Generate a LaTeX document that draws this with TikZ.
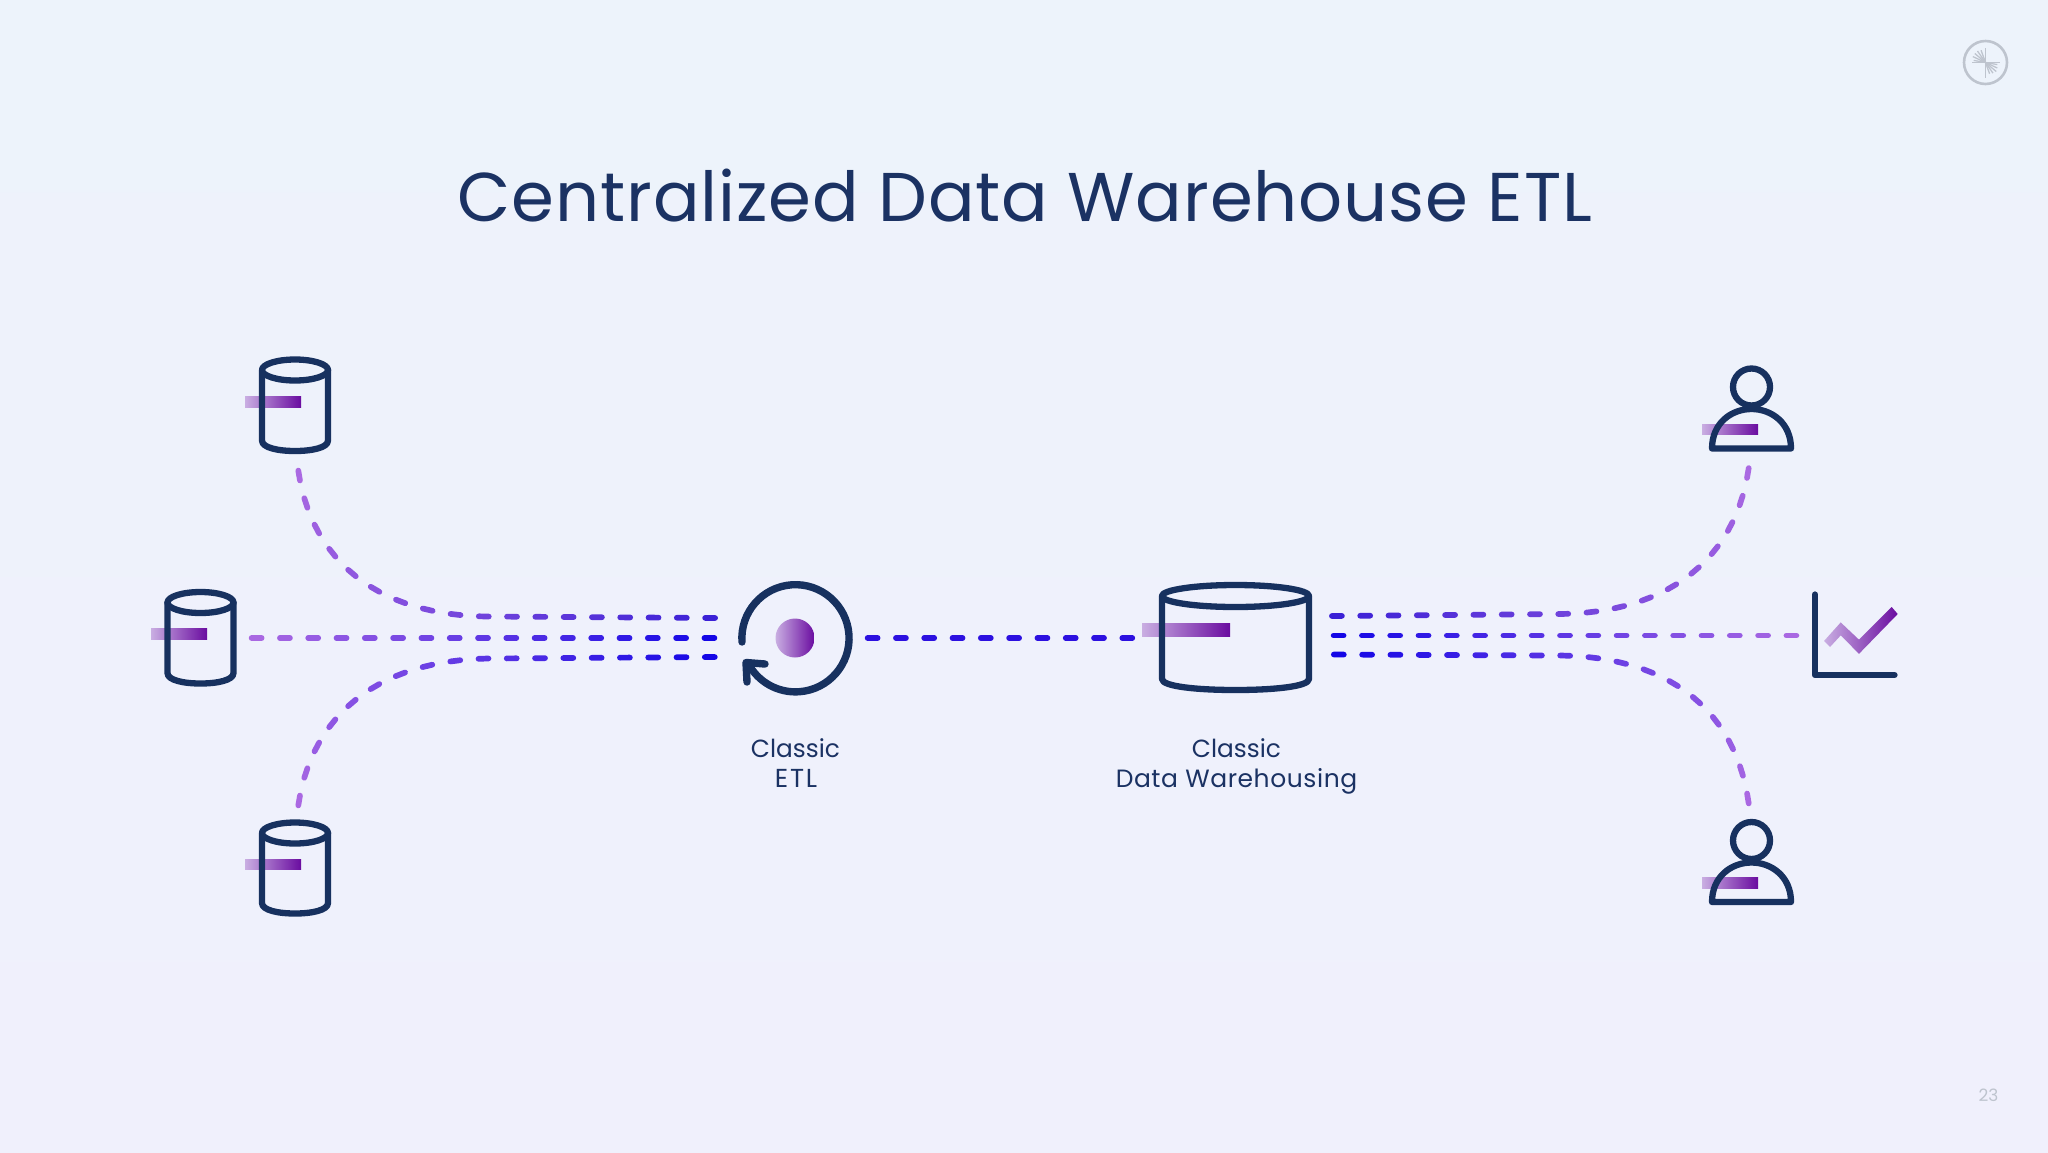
\documentclass[tikz,border=0pt]{standalone}
\usepackage{fontspec}
\setmainfont{Poppins}
\newfontfamily\spacedA[LetterSpace=7]{Poppins}
\newfontfamily\spacedB[LetterSpace=2.3]{Poppins}
\newfontfamily\spacedT[LetterSpace=1.3]{Poppins}
\usetikzlibrary{decorations.markings}
\definecolor{navy}{HTML}{17315F}
\definecolor{titlec}{HTML}{1B3263}
\definecolor{barL}{HTML}{C9AEE2}
\definecolor{barR}{HTML}{6A0CA0}
\definecolor{bgT}{HTML}{EDF3FB}
\definecolor{bgB}{HTML}{F0F0FC}
\definecolor{lineS}{HTML}{AC6AE2}
\definecolor{lineE}{HTML}{1205E6}
\definecolor{lineT}{HTML}{3A20D6}
\definecolor{midblue}{HTML}{2C10E0}
\definecolor{logoc}{HTML}{BEC4CE}
\tikzset{
  x=1pt,y=-1pt,
  icon/.style={draw=navy,line width=6.3pt,line join=round,line cap=round},
  etlstroke/.style={icon,line width=7.4pt},
  gbar/.style={left color=barL,right color=barR,draw=none},
  flow/.style 2 args={decorate,decoration={markings,
    mark=between positions 7.6pt and 1 step 28.3pt with {
      \pgfmathsetmacro\fr{100*(\pgfkeysvalueof{/pgf/decoration/mark info/distance from start}/\pgfdecoratedpathlength)}
      \draw[draw=#2!\fr!#1,line width=5.7pt,line cap=round] (-5,0) -- (5,0);
    }}},
  lbl/.style={text=titlec,font=\fontsize{24.8}{30}\selectfont,align=center,inner sep=0pt,anchor=base},
  logoray/.style={draw=logoc,line width=1.3pt},
}
\newcommand{\cyl}[5]{% cx, ytop ellipse cy, rx, ry, ybottom
  \draw[icon] (#1-#3,#2) -- (#1-#3,#5-#4) .. controls (#1-#3,#5-#4*0.3) and (#1-#3*0.5,#5) .. (#1,#5)
     .. controls (#1+#3*0.5,#5) and (#1+#3,#5-#4*0.3) .. (#1+#3,#5-#4) -- (#1+#3,#2);
  \draw[icon] (#1,#2) ellipse [x radius=#3,y radius=#4];
}
\newcommand{\person}[2]{% cx, y offset head centre
  \shade[gbar] (#1-49.5,#2+37) rectangle (#1+6.5,#2+47.5);
  \draw[icon] (#1,#2) circle [radius=18.5];
  \draw[icon] (#1-39.5,#2+61.5) .. controls (#1-39.5,#2+36) and (#1-20,#2+22) .. (#1,#2+22)
     .. controls (#1+20,#2+22) and (#1+39.5,#2+36) .. (#1+39.5,#2+61.5) -- cycle;
}
\begin{document}
\begin{tikzpicture}
\useasboundingbox (0,0) rectangle (2048,1152);
\shade[top color=bgT,bottom color=bgB] (0,0) rectangle (2048,1152);

% title
\node[text=titlec,font=\spacedT\fontsize{69}{80}\selectfont,inner sep=0pt,anchor=base] (title) at (1025,221) {Centralized Data Warehouse ETL};

% logo and page number
\coordinate (logo) at (1985.5,62.5);
\draw[logoc,line width=2.6pt] (logo) circle [radius=21.5];
\foreach \a/\l in {0/14,90/15,180/14,270/15}{
  \draw[logoc,line width=1.9pt] (logo) -- +(\a:\l);
}
\foreach \a/\l in {190/12,205/14,220/14,235/14,250/13,10/12,25/13,40/14,55/13,70/12}{
  \draw[logoray] (logo) -- +(\a:\l);
}
\node[text=logoc,font=\fontsize{17}{18}\selectfont,inner sep=0pt,anchor=base] (pageno) at (1988.5,1101) {23};

% endpoints
\coordinate (s1) at (298,468);
\coordinate (s2) at (249,638);
\coordinate (s3) at (298,808);
\coordinate (etlT) at (716,618);
\coordinate (etlM) at (716,638);
\coordinate (etlB) at (716,657);
\coordinate (etlOut) at (865,638);
\coordinate (dwIn) at (1134,638);
\coordinate (dwT) at (1332,616);
\coordinate (dwM) at (1332,635.5);
\coordinate (dwB) at (1332,654.5);
\coordinate (u1) at (1749,465.5);
\coordinate (chart) at (1799,635.5);
\coordinate (u2) at (1749,806);

% connectors
\path[flow={lineS}{lineT}] (s1) .. controls (310,558) and (375,616) .. (490,616.5) -- (etlT);
\path[flow={lineS}{lineE}] (s2) -- (etlM);
\path[flow={lineS}{lineE}] (s3) .. controls (310,718) and (375,660) .. (490,658.5) -- (etlB);
\path[flow={midblue}{midblue}] (etlOut) -- (dwIn);
\path[flow={lineS}{lineT}] (u1) .. controls (1737,555.5) and (1672,613.5) .. (1557,614) -- (dwT);
\path[flow={lineS}{lineE}] (chart) -- (dwM);
\path[flow={lineS}{lineE}] (u2) .. controls (1737,713) and (1672,656) .. (1557,655.5) -- (dwB);

% source cylinders
\shade[gbar] (245,396) rectangle (301,407);
\shade[gbar] (151,628) rectangle (207,639);
\shade[gbar] (245,859) rectangle (301,869.5);
\cyl{295}{370}{33}{10.5}{451}
\cyl{200.5}{602.5}{33}{10.5}{683.5}
\cyl{295}{833}{33}{10.5}{913.5}

% ETL
\coordinate (etl) at (795,638);
\draw[etlstroke] (742,642) arc [start angle=176,end angle=512,radius=53.6];
\draw[etlstroke] (765,664) -- (746,662.5) -- (747,682);
\shade[left color=barL,right color=barR] (etl) circle [radius=19.5];
\node[lbl,font=\spacedA\fontsize{26}{30}\selectfont] (etlL2) at (796,787) {ETL};
\node[lbl] (etlL1) at (795.5,757) {Classic};

% warehouse
\shade[gbar] (1142,623) rectangle (1230,636);
\cyl{1235.5}{596}{73.5}{11}{690}
\node[lbl] (dwL1) at (1236.5,757) {Classic};
\node[lbl,font=\spacedB\fontsize{25}{30}\selectfont] (dwL2) at (1236.5,787) {Data Warehousing};

% users
\person{1751.5}{387}
\person{1751.5}{840.5}

% chart
\draw[icon] (1815,594.5) -- (1815,675) -- (1894.5,675);
\shade[gbar] (1824,641) -- (1840.7,622.4) -- (1859,639.7) -- (1891.7,607) -- (1897.7,614) -- (1859,653.8) -- (1840.7,635.4) -- (1830,647) -- cycle;
\end{tikzpicture}
\end{document}
